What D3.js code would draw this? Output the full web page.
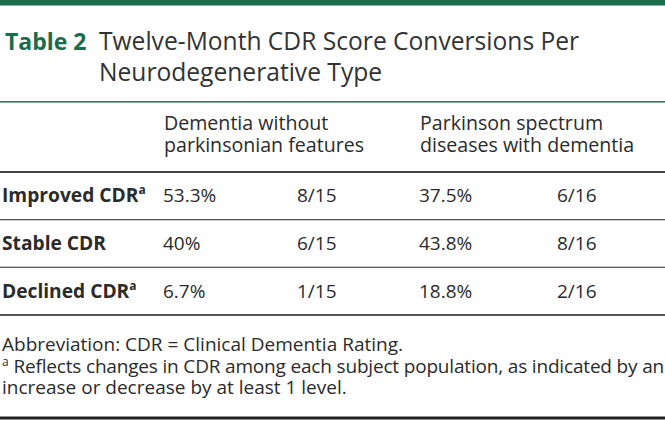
<!DOCTYPE html>
<html>
<head>
<meta charset="utf-8">
<script src="https://cdn.jsdelivr.net/npm/d3@7"></script>
<style>
  html, body { margin: 0; padding: 0; background: #fff; }
  svg { display: block; font-family: "Open Sans", "Noto Sans", sans-serif; }
</style>
</head>
<body>
<svg id="chart" width="665" height="421"></svg>
<script>
// ---- data ----
const tableLabel = "Table 2";
const titleLines = ["Twelve-Month CDR Score Conversions Per", "Neurodegenerative Type"];
const groupHeaders = [
  ["Dementia without", "parkinsonian features"],
  ["Parkinson spectrum", "diseases with dementia"]
];
const rowLabels = ["Improved CDR", "Stable CDR", "Declined CDR"];
const rowFootnote = ["a", "", "a"];
const dementiaPct = ["53.3%", "40%", "6.7%"];
const dementiaFrac = ["8/15", "6/15", "1/15"];
const parkinsonPct = ["37.5%", "43.8%", "18.8%"];
const parkinsonFrac = ["6/16", "8/16", "2/16"];
const footnotes = [
  { sup: "", text: "Abbreviation: CDR = Clinical Dementia Rating." },
  { sup: "a", text: " Reflects changes in CDR among each subject population, as indicated by an" },
  { sup: "", text: "increase or decrease by at least 1 level." }
];

// ---- layout ----
const W = 665, H = 421;
const green = "#1a6d4c";
const ink = "#2b2b2b";
const svg = d3.select("#chart");

const columns = ["label", "dPct", "dFrac", "pPct", "pFrac"];
const x = d3.scaleOrdinal().domain(columns).range([2, 163, 297, 419, 557]);
const y = d3.scaleBand().domain(rowLabels).range([172, 315]);

// top bar
svg.append("rect").attr("x", 0).attr("y", 0).attr("width", W).attr("height", 5.5).attr("fill", green);

// title
const title = svg.append("g");
title.append("text").attr("x", 5).attr("y", 50)
  .attr("font-size", 23).attr("font-weight", 700).attr("fill", green).text(tableLabel);
title.selectAll("text.t").data(titleLines).join("text").attr("class", "t")
  .attr("x", 99).attr("y", (d, i) => 50 + i * 31)
  .attr("font-size", 24.6).attr("font-weight", 400).attr("fill", "#333").text(d => d);

// green rule under title
svg.append("rect").attr("x", 0).attr("y", 101).attr("width", W).attr("height", 1.6).attr("fill", "#2e7d5b");

// group headers
const hx = [x("dPct") + 1, x("pPct") + 1];
groupHeaders.forEach((lines, gi) => {
  svg.selectAll("text.h" + gi).data(lines).join("text").attr("class", "h" + gi)
    .attr("x", hx[gi]).attr("y", (d, i) => 130 + i * 22)
    .attr("font-size", 19.6).attr("fill", ink).text(d => d);
});

// rules
const rules = [
  { y: y.range()[0], w: 2, c: "#444" },
  { y: y(rowLabels[1]), w: 1.3, c: "#555" },
  { y: y(rowLabels[2]), w: 1.3, c: "#555" },
  { y: y.range()[1], w: 2, c: "#555" },
  { y: 418, w: 3, c: "#222" }
];
svg.selectAll("rect.rule").data(rules).join("rect").attr("class", "rule")
  .attr("x", 0).attr("y", d => d.y - d.w / 2).attr("width", W).attr("height", d => d.w).attr("fill", d => d.c);

// body rows
const rows = rowLabels.map((label, i) => ({
  label, sup: rowFootnote[i],
  dPct: dementiaPct[i], dFrac: dementiaFrac[i], pPct: parkinsonPct[i], pFrac: parkinsonFrac[i]
}));
const rowG = svg.selectAll("g.row").data(rows).join("g").attr("class", "row")
  .attr("transform", d => `translate(0,${y(d.label) + y.bandwidth() / 2 + 6.5})`);

const lab = rowG.append("text").attr("x", x("label")).attr("y", 0)
  .attr("font-size", 19.2).attr("font-weight", 700).attr("fill", ink);
lab.append("tspan").text(d => d.label);
lab.append("tspan").attr("dy", -8).attr("font-size", 12).text(d => d.sup);

["dPct", "dFrac", "pPct", "pFrac"].forEach(k => {
  rowG.append("text").attr("x", x(k)).attr("y", 0)
    .attr("font-size", 19).attr("fill", ink).text(d => d[k]);
});

// footnotes
const fn = svg.selectAll("text.fn").data(footnotes).join("text").attr("class", "fn")
  .attr("x", 2).attr("y", (d, i) => 351 + i * 21.5)
  .attr("font-size", 19).attr("fill", ink);
fn.append("tspan").attr("font-size", 12).attr("dy", -7).text(d => d.sup);
fn.append("tspan").attr("class", "body").attr("dy", d => d.sup ? 7 : 0).text(d => d.text);

// condense the long footnote line so it fits the page width
fn.filter((d, i) => i === 1).each(function () {
  const t = d3.select(this);
  const full = this.getComputedTextLength();
  const target = 662;
  const body = t.select("tspan.body");
  const n = body.text().length;
  if (full > target) body.attr("letter-spacing", (target - full) / n);
});
</script>
</body>
</html>
